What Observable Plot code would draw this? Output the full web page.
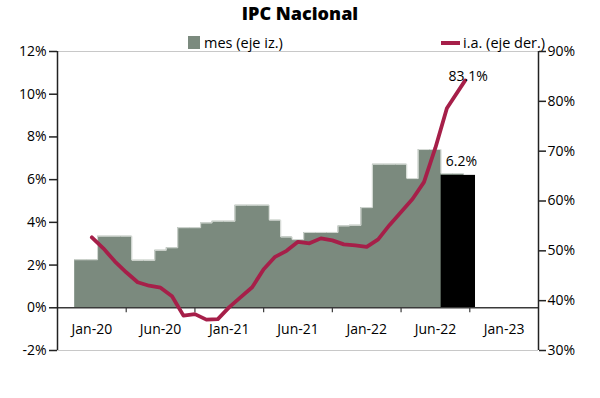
<!DOCTYPE html>
<html>
<head>
<meta charset="utf-8">
<script src="https://cdn.jsdelivr.net/npm/d3@7"></script>
<script src="https://cdn.jsdelivr.net/npm/@observablehq/plot@0.6"></script>
<style>
  body { margin: 0; background: #fff; font-family: "Open Sans", sans-serif; color: #000; }
  #wrap { position: relative; width: 600px; height: 398px; overflow: hidden; }
  #title { height: 26px; line-height: 26px; text-align: center; font-weight: 800; font-size: 18px; color: #000; }
  .leg { position: absolute; display: flex; align-items: center; font-size: 14.5px; font-weight: 500; background: #fff; white-space: nowrap; line-height: 15px; }
  .sw { display: inline-block; margin-right: 4px; }
</style>
</head>
<body>
<div id="wrap">
  <div id="title">IPC Nacional</div>
  <div id="chart"></div>
  <div class="leg" style="left:188px; top:35px;"><span class="sw" style="width:12px;height:13px;background:#7b8a7e;"></span>mes (eje iz.)</div>
  <div class="leg" style="left:441px; top:35px;"><span class="sw" style="width:19px;height:4px;background:#a61f49;margin-right:3px;"></span>i.a. (eje der.)</div>
</div>
<script>
// Monthly variation silhouette (left axis, %), one value per month slot 0..33
const barValues = [2.25,2.25,3.35,3.35,3.35,2.22,2.22,2.69,2.81,3.75,3.75,3.97,4.05,4.05,4.8,4.8,4.8,4.1,3.31,3.19,3.53,3.53,3.53,3.83,3.86,4.69,6.72,6.72,6.72,6.05,7.41,7.41,6.28,6.28];
// Latest month (highlighted in black)
const latestMonth = 33;
const latestValue = 6.2;
const latestSpan = 3;
const latestLabel = "6.2%";
// Year-on-year inflation (right axis, %)
const yoyMonths = [1,2,3,4,5,6,7,8,9,10,11,12,13,14,15,16,17,18,19,20,21,22,23,24,25,26,27,28,29,30,31,32,33.6];
const yoyValues = [52.7,50.5,47.9,45.7,43.7,43.0,42.6,40.9,37.0,37.3,36.2,36.3,38.7,40.7,42.7,46.3,48.8,50.0,51.8,51.5,52.5,52.1,51.3,51.1,50.8,52.3,55.2,57.8,60.4,63.8,70.7,78.6,84.2];
const yoyLabel = "83.1%";
// Axes
const xLabels = ["Jan-20","Jun-20","Jan-21","Jun-21","Jan-22","Jun-22","Jan-23"];
const xLabelMonths = [1,7,13,19,25,31,37];
const xTickMonths = [4,10,16,22,28,34];
const xDomain = [-2, 40];
const leftTicks = [-2,0,2,4,6,8,10,12];
const rightTicks = [30,40,50,60,70,80,90];

const L0 = -2, L1 = 12, R0 = 30, R1 = 90;
const toLeft = v => L0 + (v - R0) / (R1 - R0) * (L1 - L0);
const toRight = d => Math.round(R0 + (d - L0) / (L1 - L0) * (R1 - R0));

const steps = barValues.map((v, i) => ({x: i - 0.5, v})).concat([{x: barValues.length - 0.5, v: barValues[barValues.length - 1]}]);
const yoy = yoyValues.map((v, i) => ({m: yoyMonths[i], v, y: toLeft(v)}));
const latest = [{m: latestMonth, v: latestValue}];
const lastYoy = [yoy[yoy.length - 1]];

const GRAY = "#7b8a7e", RED = "#a61f49";
const FONT = "Open Sans, sans-serif";

const chart = Plot.plot({
  width: 600,
  height: 372,
  marginTop: 25,
  marginBottom: 48,
  marginLeft: 57,
  marginRight: 62,
  x: {domain: xDomain, axis: null},
  y: {domain: [L0, L1]},
  style: {fontFamily: FONT, fontSize: "14px", fontWeight: 500, color: "#000", background: "#fff"},
  marks: [
    Plot.ruleY([L0, L1], {stroke: "#c8c8c8", strokeWidth: 1}),
    Plot.area(steps, {x1: "x", y1: 0, y2: "v", curve: "step-after", fill: GRAY}),
    Plot.line(steps, {x: "x", y: "v", curve: "step-after", stroke: "#d8ddd8", strokeWidth: 1}),
    Plot.rect(latest, {x1: d => d.m - latestSpan / 2, x2: d => d.m + latestSpan / 2, y1: 0, y2: "v", fill: "#000"}),
    Plot.ruleY([0], {stroke: "#3a3a3a", strokeWidth: 1.5}),
    Plot.ruleX(xTickMonths, {y1: 0, y2: 0, insetBottom: -5, stroke: "#3a3a3a", strokeWidth: 1.2}),
    Plot.line(yoy, {x: "m", y: "y", stroke: RED, strokeWidth: 3.8, strokeLinejoin: "round"}),
    Plot.ruleX([xDomain[0], xDomain[1]], {stroke: "#222", strokeWidth: 1.5}),
    Plot.axisY(leftTicks, {anchor: "left", tickSize: 8, tickPadding: 3, tickFormat: d => d + "%", stroke: "#222", strokeWidth: 1.5, fontSize: 14, fill: "#000"}),
    Plot.axisY(rightTicks.map(toLeft), {anchor: "right", tickSize: 7, tickPadding: 2, tickFormat: d => toRight(d) + "%", stroke: "#222", strokeWidth: 1.5, fontSize: 14, fill: "#000"}),
    Plot.text(xLabels, {x: (d, i) => xLabelMonths[i], y: () => 0, dy: 22, text: d => d, fontSize: 14, fill: "#000"}),
    Plot.text(latest, {x: "m", y: "v", text: () => latestLabel, dx: 3, dy: -14, fontSize: 14, fill: "#000"}),
    Plot.text(lastYoy, {x: "m", y: "y", text: () => yoyLabel, dx: 3, dy: -4, fontSize: 14, fill: "#000"})
  ]
});
document.getElementById("chart").appendChild(chart);
</script>
</body>
</html>
